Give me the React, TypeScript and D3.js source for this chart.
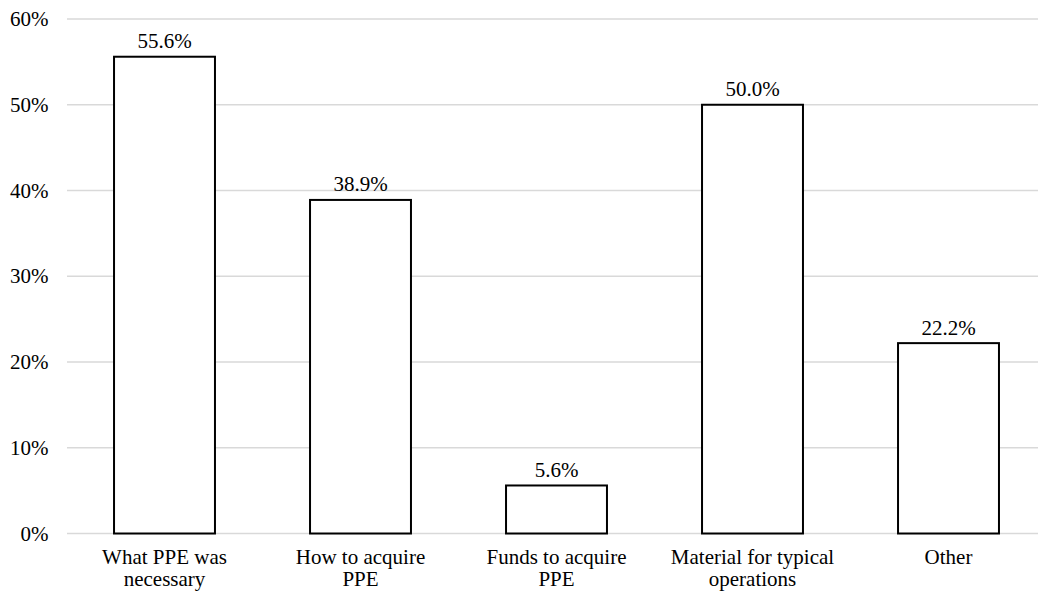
import React from "react";
import * as d3 from "d3";

const categories: string[][] = [
  ["What PPE was", "necessary"],
  ["How to acquire", "PPE"],
  ["Funds to acquire", "PPE"],
  ["Material for typical", "operations"],
  ["Other"],
];
const values: number[] = [55.6, 38.9, 5.6, 50.0, 22.2];
const yTicks: number[] = [0, 10, 20, 30, 40, 50, 60];

const W = 1038;
const H = 594;
const FONT = '"Liberation Serif", serif';

export default function App() {
  const ids = categories.map((_, i) => String(i));
  const x = d3.scaleBand<string>().domain(ids).range([66.5, 1046.5]).paddingInner(0.485).paddingOuter(0.2425);
  const y = d3.scaleLinear().domain([0, 60]).range([533.5, 19]);
  const textStyle = { fontFamily: FONT, fontSize: "21px" };

  return (
    <svg width={W} height={H} style={{ position: "absolute", left: 0, top: 0, background: "#fff" }}>
      {yTicks.map((t) => (
        <g key={t}>
          <line x1={67} x2={W} y1={y(t)} y2={y(t)} stroke="#d9d9d9" strokeWidth={1.5} />
          <text x={48.5} y={y(t) + 7} textAnchor="end" style={textStyle} fill="#000">
            {t}%
          </text>
        </g>
      ))}
      {values.map((v, i) => {
        const bx = x(String(i)) as number;
        const bw = x.bandwidth();
        const cx = bx + bw / 2;
        return (
          <g key={i}>
            <rect x={bx} y={y(v)} width={bw} height={y(0) - y(v)} fill="#fff" stroke="#000" strokeWidth={2} />
            <text x={cx} y={y(v) - 8.5} textAnchor="middle" style={textStyle} fill="#000">
              {v.toFixed(1)}%
            </text>
            <text x={cx} y={564} textAnchor="middle" style={textStyle} fill="#000">
              {categories[i].map((line, j) => (
                <tspan key={j} x={cx} dy={j === 0 ? 0 : 21.5}>
                  {line}
                </tspan>
              ))}
            </text>
          </g>
        );
      })}
    </svg>
  );
}
